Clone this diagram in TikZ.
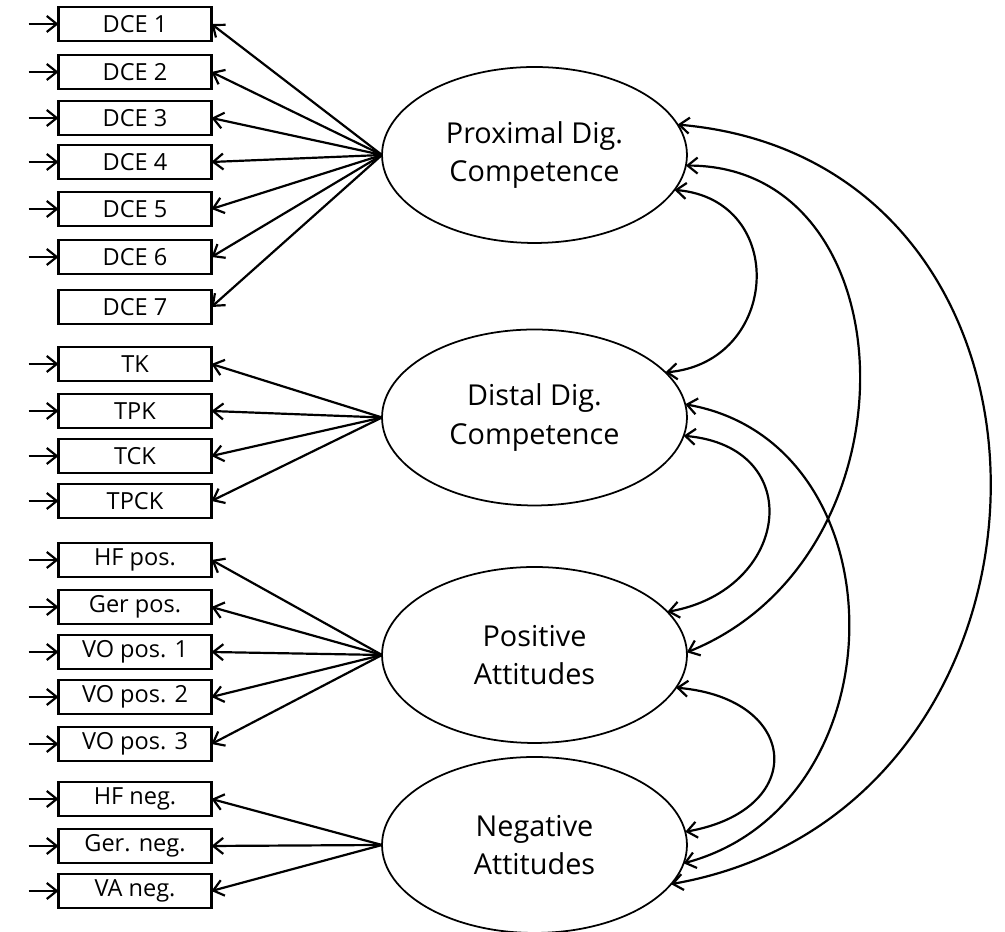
\documentclass[tikz,border=0pt]{standalone}
\usepackage{fontspec}
\setmainfont{Open Sans}
\usetikzlibrary{shapes,arrows.meta,positioning}

\begin{document}
\begin{tikzpicture}[
    x=0.02cm, y=0.02cm,
    indicator/.style={rectangle, draw, line width=1.3pt, minimum width=3.06cm, minimum height=0.68cm, inner sep=0pt, outer sep=0pt, font=\fontsize{13.4}{16}\selectfont},
    latent/.style={ellipse, draw, line width=1pt, minimum width=6.1cm, minimum height=3.52cm, align=center, outer sep=0pt, font=\fontsize{16.4}{22}\selectfont},
    arrow/.style={-{Straight Barb[length=2mm,width=3.2mm]}, line width=1.25pt},
    covar/.style={{Straight Barb[length=2mm,width=3.2mm]}-{Straight Barb[length=2mm,width=3.2mm]}, line width=1.25pt}
]
\useasboundingbox (0,0) rectangle (1005,932);

% Latent factors
\node[latent] (prox) at (534.5,777) {Proximal Dig.\\Competence};
\node[latent] (dist) at (534.5,514.5) {Distal Dig.\\Competence};
\node[latent] (pos) at (534.5,277) {Positive\\Attitudes};
\node[latent] (neg) at (534.5,87) {Negative\\Attitudes};

% Indicators
\node[indicator] (dce1) at (135,908) {DCE 1};
\node[indicator] (dce2) at (135,860) {DCE 2};
\node[indicator] (dce3) at (135,814) {DCE 3};
\node[indicator] (dce4) at (135,770) {DCE 4};
\node[indicator] (dce5) at (135,723) {DCE 5};
\node[indicator] (dce6) at (135,675) {DCE 6};
\node[indicator] (dce7) at (135,625) {DCE 7};
\node[indicator] (tk) at (135,568) {TK};
\node[indicator] (tpk) at (135,521) {TPK};
\node[indicator] (tck) at (135,476) {TCK};
\node[indicator] (tpck) at (135,431) {TPCK};
\node[indicator] (hfpos) at (135,372) {HF pos.};
\node[indicator] (gerpos) at (135,325) {Ger pos.};
\node[indicator] (vopos1) at (135,280) {VO pos. 1};
\node[indicator] (vopos2) at (135,235) {VO pos. 2};
\node[indicator] (vopos3) at (135,188) {VO pos. 3};
\node[indicator] (hfneg) at (135,133) {HF neg.};
\node[indicator] (gerneg) at (135,86) {Ger. neg.};
\node[indicator] (vaneg) at (135,41) {VA neg.};

% Loadings
\foreach \b in {dce1,dce2,dce3,dce4,dce5,dce6,dce7}
    \draw[arrow] (prox.west) -- (\b.east);
\foreach \b in {tk,tpk,tck,tpck}
    \draw[arrow] (dist.west) -- (\b.east);
\foreach \b in {hfpos,gerpos,vopos1,vopos2,vopos3}
    \draw[arrow] (pos.west) -- (\b.east);
\foreach \b in {hfneg,gerneg,vaneg}
    \draw[arrow] (neg.west) -- (\b.east);

% Error terms
\foreach \b in {dce1,dce2,dce3,dce4,dce5,dce6,tk,tpk,tck,tpck,hfpos,gerpos,vopos1,vopos2,vopos3,hfneg,gerneg,vaneg} {
    \coordinate (e-\b) at ([xshift=-0.6cm]\b.west);
    \draw[arrow] (e-\b) -- (\b.west);
}

% Covariances
\draw[covar] (prox.-14) .. controls +(-5:115) and +(5:115) .. (dist.19);
\draw[covar] (prox.-4) .. controls +(0:225) and +(22:255) .. (pos.1);
\draw[covar] (prox.12) .. controls +(-5:425) and +(10:425) .. (neg.-16);
\draw[covar] (dist.5) .. controls +(-10:222) and +(15:227) .. (neg.-7);
\draw[covar] (dist.-7) .. controls +(-5:125) and +(10:125) .. (pos.18);
\draw[covar] (pos.-13) .. controls +(-5:125) and +(10:125) .. (neg.5);

\end{tikzpicture}
\end{document}
